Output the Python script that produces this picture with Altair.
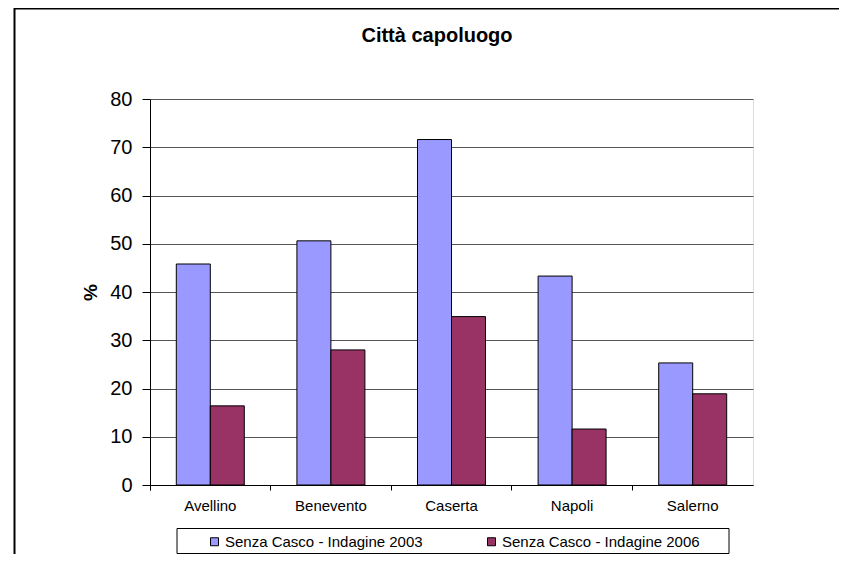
import altair as alt
import pandas as pd

cities = ["Avellino", "Benevento", "Caserta", "Napoli", "Salerno"]
series = ["Senza Casco - Indagine 2003", "Senza Casco - Indagine 2006"]
values_2003 = [45.8, 50.6, 71.6, 43.3, 25.3]
values_2006 = [16.4, 28.0, 34.9, 11.6, 18.9]
y_ticks = [0, 10, 20, 30, 40, 50, 60, 70, 80]
colors = ["#9999FF", "#993366"]
chart_title = "Città capoluogo"
y_title = "%"

rows = []
for c, a, b in zip(cities, values_2003, values_2006):
    rows.append({"city": c, "series": series[0], "value": a})
    rows.append({"city": c, "series": series[1], "value": b})
df = pd.DataFrame(rows)

W, H = 603, 386
FONT = "Liberation Sans"
one = alt.Data(values=[{"a": 1}])

bars = alt.Chart(df).mark_bar(stroke="black", strokeWidth=1).encode(
    x=alt.X(
        "city:N", sort=cities,
        scale=alt.Scale(paddingInner=0, paddingOuter=0),
        axis=alt.Axis(title=None, labelAngle=0, labelFontSize=15, labelFont=FONT,
                      labelColor="black", bandPosition=0, tickExtra=True,
                      ticks=True, tickSize=5, tickColor="black", domainColor="black",
                      labelPadding=8, grid=False),
    ),
    xOffset=alt.XOffset("series:N", sort=series,
                        scale=alt.Scale(paddingInner=0, paddingOuter=0.774)),
    y=alt.Y(
        "value:Q",
        scale=alt.Scale(domain=[0, 80], nice=False),
        axis=alt.Axis(values=y_ticks, title=y_title, titleFontSize=19,
                      titleFontWeight="bold", titleFont=FONT, titleColor="black",
                      titleX=-60, titleY=H / 2, titleBaseline="middle",
                      labelFontSize=20, labelFont=FONT, labelColor="black",
                      labelPadding=10, tickSize=8, tickColor="black",
                      domainColor="black", gridColor="#555555", gridWidth=1,
                      gridOpacity=1),
    ),
    color=alt.Color(
        "series:N", sort=series,
        scale=alt.Scale(domain=series, range=colors),
        legend=alt.Legend(orient="none", legendX=57, legendY=435,
                          direction="horizontal", title=None, symbolType="square",
                          symbolSize=64, symbolStrokeColor="black",
                          symbolStrokeWidth=1, labelFontSize=15, labelFont=FONT,
                          labelColor="black", columnPadding=61, labelOffset=3,
                          padding=0, labelLimit=400, symbolOpacity=1),
    ),
)

frame_left = alt.Chart(one).mark_rule(color="black", strokeWidth=2).encode(
    x=alt.value(-135.5), y=alt.value(-91), y2=alt.value(470)
)
frame_top = alt.Chart(one).mark_rule(color="black", strokeWidth=2).encode(
    y=alt.value(-90.5), x=alt.value(-136), x2=alt.value(700)
)
title_text = alt.Chart(one).mark_text(
    text=chart_title, font=FONT, fontSize=20, fontWeight="bold",
    align="center", baseline="middle", color="black"
).encode(x=alt.value(287), y=alt.value(-63))
legend_box = alt.Chart(one).mark_rect(fill="white", stroke="black", strokeWidth=1).encode(
    x=alt.value(27), x2=alt.value(579), y=alt.value(429.5), y2=alt.value(454.5)
)

chart = alt.layer(frame_left, frame_top, title_text, legend_box, bars).properties(
    width=W, height=H,
    autosize=alt.AutoSizeParams(type="none"),
    padding={"left": 142, "top": 91, "right": 86, "bottom": 69},
).configure_view(stroke="#888888").configure(background="white")

chart.save("out.html", embed_options={"renderer": "svg", "actions": False})
